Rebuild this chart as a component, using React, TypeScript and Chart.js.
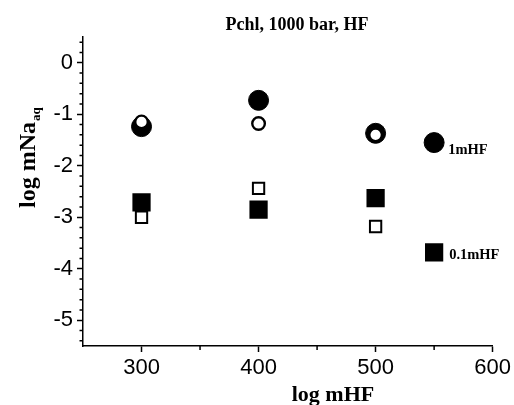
import React, { useEffect, useRef } from "react";
import { Chart, registerables } from "chart.js";

Chart.register(...registerables);

// ---- data ----
const xCategories = [300, 400, 500];
const filledCircles = [-1.24, -0.73, -1.37]; // 1mHF
const openCircles = [-1.15, -1.18, -1.4];
const filledSquares = [-2.71, -2.85, -2.63]; // 0.1mHF
const openSquares = [-3.0, -2.44, -3.18];
const keyX = 550;
const keyCircleY = -1.55;
const keySquareY = -3.68;
const keyLabels = ["1mHF", "0.1mHF"];
const xTickLabels = [300, 400, 500, 600];
const yTickLabels = [-5, -4, -3, -2, -1, 0];
const xMinorTicks = [350, 450, 550];
const titleText = "Pchl, 1000 bar, HF";
const xTitle = "log mHF";
const yTitleMain = "log mNa";
const yTitleSub = "aq";

const pts = (ys: number[]) => ys.map((y, i) => ({ x: xCategories[i], y }));

const textPlugin = {
  id: "texts",
  afterDraw(chart: any) {
    const ctx = chart.ctx;
    const xs = chart.scales.x;
    const ys = chart.scales.y;
    const area = chart.chartArea;
    ctx.save();
    ctx.fillStyle = "#000";
    ctx.strokeStyle = "#000";
    // minor ticks
    ctx.lineWidth = 1.5;
    ctx.beginPath();
    for (const v of xMinorTicks) {
      const px = xs.getPixelForValue(v);
      ctx.moveTo(px, area.bottom);
      ctx.lineTo(px, area.bottom + 4);
    }
    for (let k = -27; k <= 2; k++) {
      if (k % 5 === 0) continue;
      const v = k * 0.2;
      const py = ys.getPixelForValue(v);
      ctx.moveTo(area.left - 3.5, py);
      ctx.lineTo(area.left, py);
    }
    ctx.stroke();

    // title
    ctx.font = 'bold 18px "Liberation Serif"';
    ctx.textAlign = "center";
    ctx.textBaseline = "alphabetic";
    ctx.fillText(titleText, 297, 30);
    // x title
    ctx.font = 'bold 22px "Liberation Serif"';
    ctx.fillText(xTitle, 333, 401);
    // key labels
    ctx.textAlign = "left";
    ctx.font = 'bold 14.5px "Liberation Serif"';
    ctx.fillText(keyLabels[0], xs.getPixelForValue(keyX) + 14, ys.getPixelForValue(keyCircleY) + 11);
    ctx.fillText(keyLabels[1], xs.getPixelForValue(keyX) + 15, ys.getPixelForValue(keySquareY) + 7);
    // y title
    ctx.translate(35, 208);
    ctx.rotate(-Math.PI / 2);
    ctx.font = 'bold 24px "Liberation Serif"';
    ctx.fillText(yTitleMain, 0, 0);
    const w = ctx.measureText(yTitleMain).width;
    ctx.font = 'bold 13px "Liberation Serif"';
    ctx.fillText(yTitleSub, w + 1, 5);
    ctx.restore();
  },
};

export default function App() {
  const ref = useRef<HTMLCanvasElement>(null);
  useEffect(() => {
    const chart = new Chart(ref.current as HTMLCanvasElement, {
      type: "scatter",
      data: {
        datasets: [
          {
            label: "open circles",
            data: pts(openCircles),
            pointStyle: "circle",
            pointRadius: 6.3,
            pointBorderWidth: 2.4,
            pointBackgroundColor: "#fff",
            pointBorderColor: "#000",
            order: 0,
          },
          {
            label: "1mHF",
            data: [...pts(filledCircles), { x: keyX, y: keyCircleY }],
            pointStyle: "circle",
            pointRadius: 10,
            pointBorderWidth: 1,
            pointBackgroundColor: "#000",
            pointBorderColor: "#000",
            order: 1,
          },
          {
            label: "open squares",
            data: pts(openSquares),
            pointStyle: "rect",
            pointRadius: 8,
            pointBorderWidth: 2,
            pointBackgroundColor: "#fff",
            pointBorderColor: "#000",
            order: 2,
          },
          {
            label: "0.1mHF",
            data: [...pts(filledSquares), { x: keyX, y: keySquareY }],
            pointStyle: "rect",
            pointRadius: 12.9,
            pointBorderWidth: 0,
            pointBackgroundColor: "#000",
            pointBorderColor: "#000",
            order: 3,
          },
        ],
      },
      options: {
        animation: false,
        responsive: false,
        events: [],
        layout: { padding: { top: 37, right: 20, left: 0, bottom: 0 } },
        plugins: { legend: { display: false }, tooltip: { enabled: false }, title: { display: false } },
        scales: {
          x: {
            type: "linear",
            min: 250,
            max: 600,
            afterBuildTicks: (s: any) => {
              s.ticks = xTickLabels.map((v) => ({ value: v }));
            },
            afterFit: (s: any) => {
              s.height = 59;
            },
            grid: { drawOnChartArea: false, drawTicks: true, tickLength: 6, tickColor: "#000", tickWidth: 1.5 },
            border: { display: true, color: "#000", width: 1.5 },
            ticks: {
              color: "#000",
              padding: 3,
              maxRotation: 0,
              autoSkip: false,
              font: { family: '"Liberation Sans"', size: 22 },
              callback: (v: any) => String(v),
            },
          },
          y: {
            type: "linear",
            min: -5.5,
            max: 0.5,
            afterBuildTicks: (s: any) => {
              s.ticks = yTickLabels.map((v) => ({ value: v }));
            },
            afterFit: (s: any) => {
              s.width = 83;
            },
            grid: { drawOnChartArea: false, drawTicks: true, tickLength: 6, tickColor: "#000", tickWidth: 1.5 },
            border: { display: true, color: "#000", width: 1.5 },
            ticks: {
              color: "#000",
              padding: 4,
              autoSkip: false,
              font: { family: '"Liberation Sans"', size: 22 },
              callback: (v: any) => String(v),
            },
          },
        },
      },
      plugins: [textPlugin],
    });
    return () => chart.destroy();
  }, []);
  return (
    <div style={{ position: "absolute", left: 0, top: 0, width: 514, height: 405, background: "#fff" }}>
      <canvas ref={ref} width={514} height={405} />
    </div>
  );
}
